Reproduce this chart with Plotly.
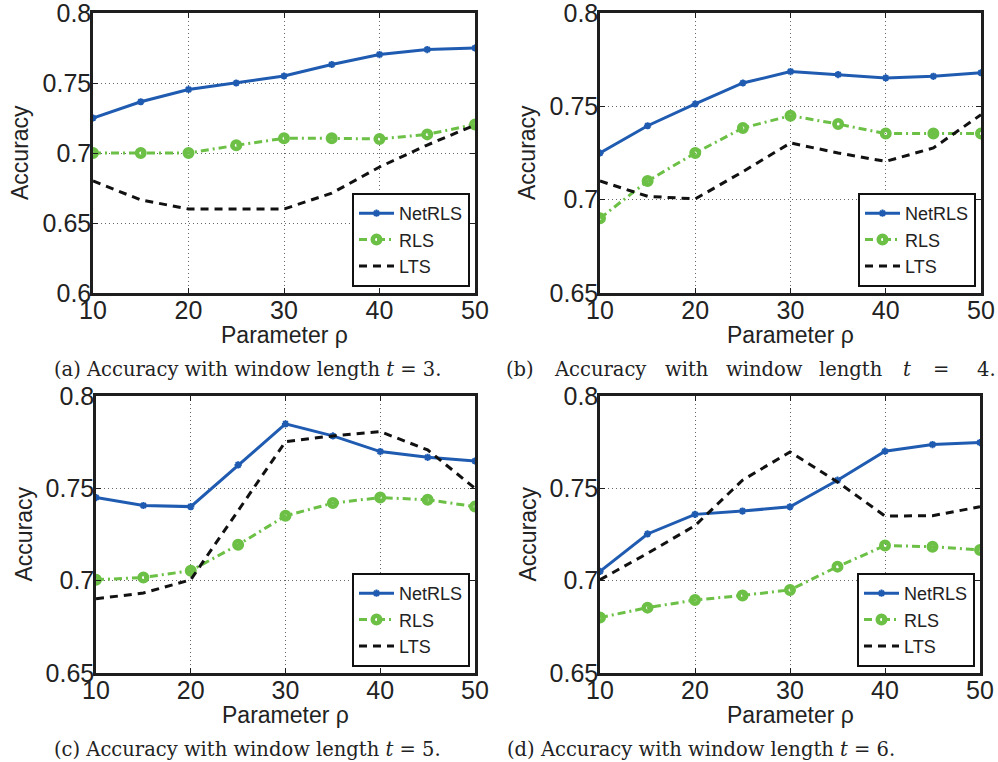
import plotly.graph_objects as go

# ---------------- data ----------------
rho = [10, 15, 20, 25, 30, 35, 40, 45, 50]

netrls_t3 = [0.725, 0.7366, 0.7454, 0.750, 0.755, 0.7632, 0.7703, 0.7739, 0.775]
rls_t3    = [0.700, 0.700, 0.700, 0.7055, 0.7105, 0.7105, 0.710, 0.7133, 0.7204]
lts_t3    = [0.680, 0.6665, 0.660, 0.660, 0.660, 0.6713, 0.690, 0.7057, 0.720]

netrls_t4 = [0.725, 0.7396, 0.7513, 0.7625, 0.7686, 0.767, 0.7652, 0.7661, 0.768]
rls_t4    = [0.690, 0.710, 0.725, 0.7384, 0.745, 0.7405, 0.7354, 0.7354, 0.7354]
lts_t4    = [0.710, 0.7018, 0.7004, 0.715, 0.7304, 0.725, 0.7205, 0.7277, 0.7455]

netrls_t5 = [0.745, 0.7407, 0.7401, 0.7627, 0.7849, 0.7784, 0.7699, 0.7668, 0.7648]
rls_t5    = [0.7005, 0.7017, 0.7054, 0.7194, 0.7351, 0.742, 0.745, 0.7438, 0.7401]
lts_t5    = [0.6902, 0.6933, 0.7005, 0.738, 0.7753, 0.7784, 0.7807, 0.7708, 0.750]

netrls_t6 = [0.705, 0.7253, 0.7359, 0.7377, 0.740, 0.7544, 0.7701, 0.7737, 0.7748]
rls_t6    = [0.680, 0.6854, 0.6895, 0.692, 0.695, 0.7076, 0.719, 0.7184, 0.7166]
lts_t6    = [0.7005, 0.7148, 0.7298, 0.7544, 0.7697, 0.7535, 0.735, 0.7352, 0.740]

x_ticks = [10, 20, 30, 40, 50]
y_ticks_a = [0.6, 0.65, 0.7, 0.75, 0.8]
y_ticks_a_text = ["0.6", "0.65", "0.7", "0.75", "0.8"]
y_ticks_b = [0.65, 0.7, 0.75, 0.8]
y_ticks_b_text = ["0.65", "0.7", "0.75", "0.8"]

series_names = ["NetRLS", "RLS", "LTS"]
x_title = "Parameter ρ"
y_title = "Accuracy"
captions = [
    "(a) Accuracy with window length <i>t</i> = 3.",
    None,
    "(c) Accuracy with window length <i>t</i> = 5.",
    "(d) Accuracy with window length <i>t</i> = 6.",
]
caption_b_words = ["(b)", "Accuracy", "with", "window", "length", "<i>t</i>", "=", "4."]

# ---------------- styles ----------------
W, H = 998, 762
BLUE = "#1f5bb0"
GREEN = "#6cc046"
FRAME = "#1e1e1e"
SANS = "Liberation Sans, Arial, sans-serif"
SERIF = "DejaVu Serif, serif"

# panel pixel boxes: left, right, top, bottom
panels = [
    (93, 475, 13, 293),
    (600, 981, 13, 293),
    (96, 475, 396, 673),
    (600, 980, 396, 673),
]
data_sets = [
    (netrls_t3, rls_t3, lts_t3, [0.6, 0.8], y_ticks_a, y_ticks_a_text),
    (netrls_t4, rls_t4, lts_t4, [0.65, 0.8], y_ticks_b, y_ticks_b_text),
    (netrls_t5, rls_t5, lts_t5, [0.65, 0.8], y_ticks_b, y_ticks_b_text),
    (netrls_t6, rls_t6, lts_t6, [0.65, 0.8], y_ticks_b, y_ticks_b_text),
]

fig = go.Figure()
annotations = []
layout_upd = {}

for i, ((l, r, t, b), (nr, rl, lt, yr, yt, ytt)) in enumerate(zip(panels, data_sets)):
    k = i + 1
    xa = "x" if k == 1 else f"x{k}"
    ya = "y" if k == 1 else f"y{k}"
    lg = "legend" if k == 1 else f"legend{k}"
    fig.add_trace(go.Scatter(
        x=rho, y=nr, name=series_names[0], xaxis=xa, yaxis=ya, legend=lg,
        mode="lines+markers",
        line=dict(color=BLUE, width=3),
        marker=dict(symbol="asterisk-open", size=6, color=BLUE, line=dict(color=BLUE, width=2)),
    ))
    fig.add_trace(go.Scatter(
        x=rho, y=rl, name=series_names[1], xaxis=xa, yaxis=ya, legend=lg,
        mode="lines+markers",
        line=dict(color=GREEN, width=3, dash="8px,4px,2px,4px"),
        marker=dict(symbol="circle-open", size=7.5, color=GREEN, line=dict(color=GREEN, width=4.5)),
    ))
    fig.add_trace(go.Scatter(
        x=rho, y=lt, name=series_names[2], xaxis=xa, yaxis=ya, legend=lg,
        mode="lines",
        line=dict(color="#111111", width=3, dash="8px,6px"),
    ))

    xdom = [l / W, r / W]
    ydom = [1 - b / H, 1 - t / H]
    axis_common = dict(
        showline=True, linecolor=FRAME, linewidth=2.5, mirror="ticks",
        ticks="inside", ticklen=5, tickwidth=1, tickcolor=FRAME,
        showgrid=True, gridcolor="#666666", gridwidth=1, griddash="1px,3px",
        zeroline=False, automargin=False, ticklabeloverflow="allow",
        tickfont=dict(family=SANS, size=25, color="#222222"),
    )
    layout_upd["xaxis" if k == 1 else f"xaxis{k}"] = dict(
        domain=xdom, anchor=ya, range=[10, 50], tickvals=x_ticks,
        ticktext=[str(v) for v in x_ticks], ticklabelstandoff=-7, **axis_common,
    )
    layout_upd["yaxis" if k == 1 else f"yaxis{k}"] = dict(
        domain=ydom, anchor=xa, range=yr, tickvals=yt, ticktext=ytt,
        ticklabelstandoff=-6, **axis_common,
    )
    layout_upd[lg] = dict(
        x=(r - 5) / W, y=1 - (b - 6) / H, xanchor="right", yanchor="bottom",
        bgcolor="white", bordercolor="#111111", borderwidth=2,
        font=dict(family=SANS, size=18, color="#222222"),
        tracegroupgap=0, itemwidth=35,
    )

    cx = (l + r) / 2 / W
    annotations.append(dict(
        text=x_title, x=cx, y=1 - (b + 42) / H, xref="paper", yref="paper",
        showarrow=False, xanchor="center", yanchor="middle",
        font=dict(family=SANS, size=23, color="#222222"),
    ))
    annotations.append(dict(
        text=y_title, x=(l - 73) / W, y=1 - (t + b) / 2 / H, xref="paper", yref="paper",
        showarrow=False, xanchor="center", yanchor="middle", textangle=-90,
        font=dict(family=SANS, size=23, color="#222222"),
    ))

cap_font = dict(family=SERIF, size=19.5, color="#222222")
cap_pos = {0: (247, 369), 2: (247, 749), 3: (701, 749)}
for idx, (cxp, cyp) in cap_pos.items():
    annotations.append(dict(
        text=captions[idx], x=cxp / W, y=1 - cyp / H, xref="paper", yref="paper",
        showarrow=False, xanchor="center", yanchor="middle", font=cap_font,
    ))
b_word_x = [519.5, 600, 686.5, 764.5, 851, 906.5, 941, 986.5]
for wtxt, wx in zip(caption_b_words, b_word_x):
    annotations.append(dict(
        text=wtxt, x=wx / W, y=1 - 370 / H, xref="paper", yref="paper",
        showarrow=False, xanchor="center", yanchor="middle", font=cap_font,
    ))

fig.update_layout(
    width=W, height=H, margin=dict(l=0, r=0, t=0, b=0),
    paper_bgcolor="white", plot_bgcolor="white",
    showlegend=True, annotations=annotations, **layout_upd,
)

fig.write_html("out.html")
